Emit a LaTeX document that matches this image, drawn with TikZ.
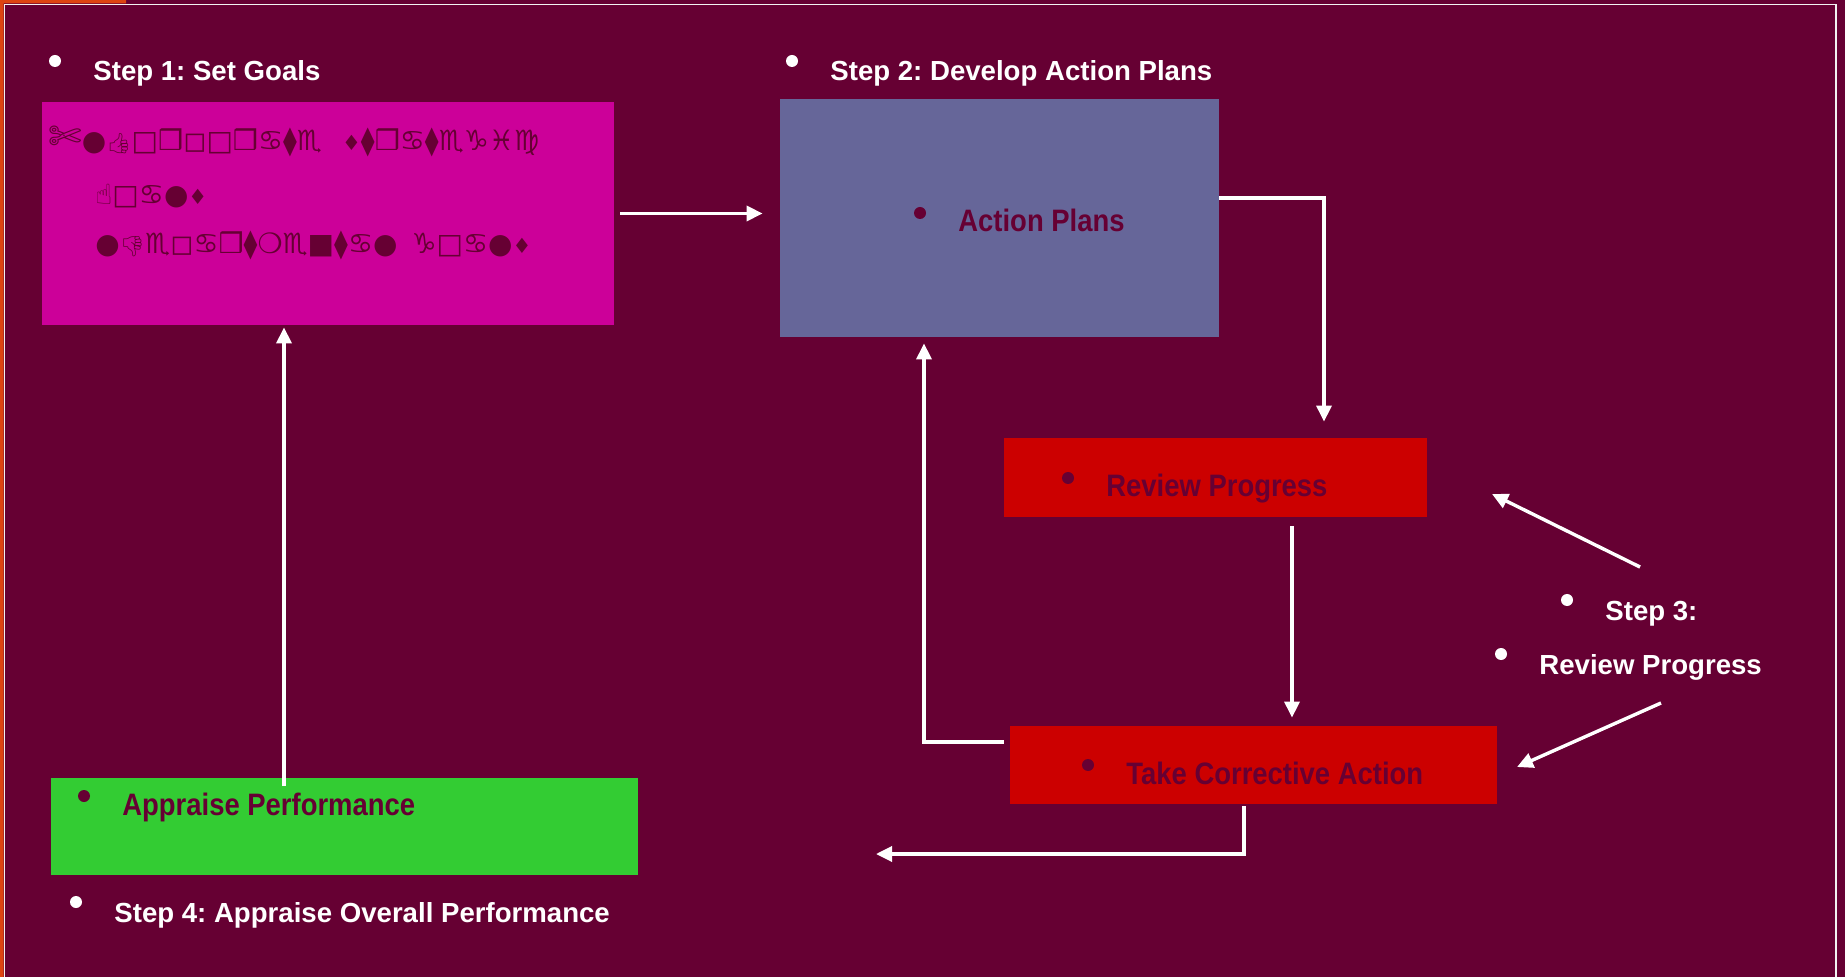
\documentclass[tikz,border=0pt]{standalone}
\usepackage{fontspec}
\setmainfont{Liberation Sans}
\newfontfamily\narrowfont[FakeStretch=0.885]{Liberation Sans}
\newfontfamily\dingfont{DejaVu Sans}
\newfontfamily\emojifont{Noto Emoji}
\usetikzlibrary{arrows.meta}
\frenchspacing

\definecolor{maroon}{HTML}{660033}
\definecolor{goalpink}{HTML}{CC0099}
\definecolor{planblue}{HTML}{666699}
\definecolor{reviewred}{HTML}{CC0000}
\definecolor{appraisegreen}{HTML}{33CC33}
\definecolor{edgeorange}{HTML}{DD4411}

% small drop-like lozenge and the two thumbs
\newcommand{\lozs}{{\fontsize{10.5}{10}\selectfont ♦}}
\newcommand{\thumbup}{{\emojifont\fontsize{10}{10}\selectfont 👍}}
\newcommand{\thumbdown}{{\emojifont\fontsize{10}{10}\selectfont 👎}}

\tikzset{
  panel/.style={rectangle, fill=#1, draw=none, inner sep=0pt},
  heading/.style={text=white, inner sep=0pt, anchor=base west,
    font=\bfseries\fontsize{13.8}{16}\selectfont},
  boxtext/.style={text=maroon, inner sep=0pt, anchor=base west,
    font=\narrowfont\bfseries\fontsize{15.5}{18}\selectfont},
  glyphs/.style={text=maroon, inner sep=0pt, anchor=base west,
    font=\dingfont\fontsize{14}{15}\selectfont},
  flow/.style={draw=white, line width=1.7pt, -{Triangle[length=8pt,width=7.5pt]}}
}

\begin{document}
\begin{tikzpicture}[x=0.5pt,y=-0.5pt]
  \useasboundingbox (0,0) rectangle (1845,977);
  \fill[maroon] (0,0) rectangle (1845,977);
  \fill[edgeorange] (0,0) rectangle (3.5,977) (0,0) rectangle (126,3.5);
  \draw[white!90!gray, line width=0.8pt] (4.5,990) -- (4.5,4.5) -- (1836,4.5) -- (1836,990);

  % the five coloured panels
  \node[panel=goalpink, minimum width=286pt, minimum height=111.5pt] (goals) at (328,213.5) {};
  \node[panel=planblue, minimum width=219.5pt, minimum height=119pt] (plans) at (999.5,218) {};
  \node[panel=reviewred, minimum width=211.5pt, minimum height=39.5pt] (review) at (1215.5,477.5) {};
  \node[panel=reviewred, minimum width=243.5pt, minimum height=39pt] (take) at (1253.5,765) {};
  \node[panel=appraisegreen, minimum width=293.5pt, minimum height=48.5pt] (appraise) at (344.5,826.5) {};

  % step headings
  \node[heading] (s1) at (93,81) {Step 1: Set Goals};
  \node[heading] (s2) at (830,81) {Step 2: Develop Action Plans};
  \node[heading] (s3a) at (1605,620) {Step 3:};
  \node[heading] (s3b) at (1539,674) {Review Progress};
  \node[heading] (s4) at (114,922) {Step 4: Appraise Overall Performance};

  % panel texts
  \node[glyphs] (g1) at (48,151) {{\fontsize{20}{20}\selectfont ✄}●\thumbup□❒◻□❒♋⧫♏\hspace{10pt}\lozs⧫❒♋⧫♏♑♓♍};
  \node[glyphs] (g2) at (95,205) {☝□♋●\lozs};
  \node[glyphs] (g3) at (95,254) {●\thumbdown♏◻♋❒⧫❍♏■⧫♋●\hspace{7pt}♑□♋●\lozs};
  \node[boxtext] (ap) at (958,232) {Action Plans};
  \node[boxtext] (rp) at (1106,497) {Review Progress};
  \node[boxtext] (tc) at (1126,784) {Take Corrective Action};
  \node[boxtext] (pf) at (122,815) {Appraise Performance};

  % bullets
  \foreach \n in {s1,s2,s3a,s3b,s4}
    \fill[white] ([shift={(-38,-20)}]\n.base west) circle (6);
  \foreach \n in {ap,rp,tc,pf}
    \fill[maroon] ([shift={(-38,-19)}]\n.base west) circle (6);

  % connectors
  \coordinate (c1) at (1324,198);
  \coordinate (c2) at (1292,526);
  \coordinate (c3) at (924,742);
  \coordinate (c4) at (1244,854);
  \coordinate (c5) at (876,854);
  \coordinate (c6) at (284,786);
  \coordinate (p1) at (1640,567);
  \coordinate (q1) at (1492,494);
  \coordinate (p2) at (1661,703);
  \coordinate (q2) at (1517,767);

  \draw[flow, shorten <=3pt, shorten >=8.5pt] (goals.east) -- (plans.west |- goals.east);
  \draw[flow, shorten >=8pt] (plans.east |- c1) -- (c1) -- (c1 |- review.north);
  \draw[flow, shorten <=4.5pt, shorten >=4pt] (c2 |- review.south) -- (c2 |- take.north);
  \draw[flow, shorten <=3pt, shorten >=3pt] (take.west |- c3) -- (c3) -- (c3 |- plans.south);
  \draw[flow, shorten <=1pt] (c4 |- take.south) -- (c4) -- (c5);
  \draw[flow, shorten >=1pt] (c6) -- (c6 |- goals.south);
  \draw[flow] (p1) -- (q1);
  \draw[flow] (p2) -- (q2);
\end{tikzpicture}
\end{document}
